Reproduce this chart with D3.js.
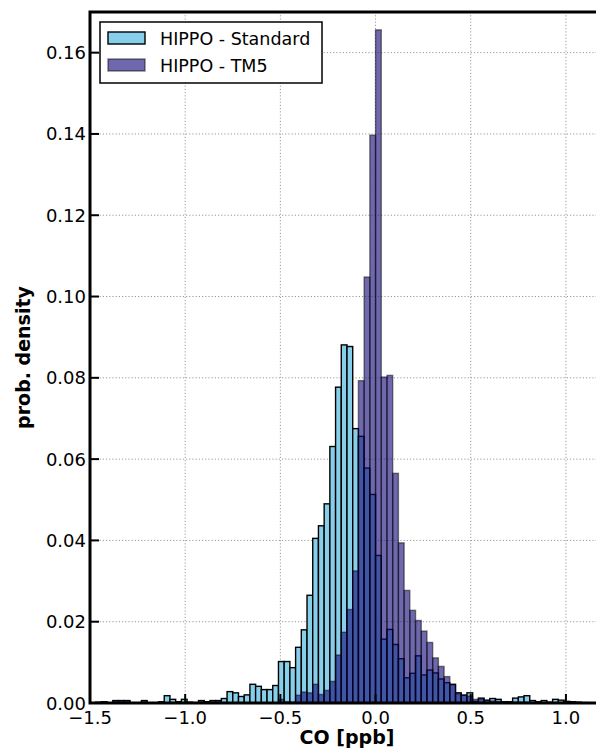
<!DOCTYPE html>
<html>
<head>
<meta charset="utf-8">
<script src="https://cdn.jsdelivr.net/npm/d3@7"></script>
<style>
  body { margin: 0; background: #fff; }
  svg { display: block; font-family: 'DejaVu Sans', sans-serif; }
</style>
</head>
<body>
<script>
// histogram bins: 0.03 wide, starting at -1.5
const binStart = -1.5;
const binWidth = 0.03;

const standard = [
  0, 0.0002, 0.0003, 0, 0.0006, 0.0006, 0.0006, 0, 0, 0.0006,
  0, 0, 0.0003, 0.0018, 0.0009, 0.0003, 0.0009, 0.0002, 0, 0.0006,
  0.0003, 0.0006, 0.0006, 0.0011, 0.0028, 0.0025, 0.0016, 0.0020, 0.0046, 0.0041,
  0.0033, 0.0033, 0.0043, 0.0102, 0.0102, 0.0087, 0.0137, 0.0180, 0.0265, 0.0405,
  0.0436, 0.0490, 0.0631, 0.0777, 0.0881, 0.0877, 0.0675, 0.0656, 0.0578, 0.0513,
  0.0363, 0.0157, 0.0181, 0.0144, 0.0109, 0.0062, 0.0073, 0.0116, 0.0069, 0.0081,
  0.0074, 0.0059, 0.0050, 0.0046, 0.0025, 0.0019, 0.0025, 0.0004, 0.0012, 0.0007,
  0.0011, 0.0009, 0.0003, 0.0003, 0.0012, 0.0015, 0.0018, 0.0006, 0.0003, 0.0006,
  0.0002, 0.0009, 0.0007, 0.0004, 0.0003, 0.0002, 0.0001
];

const tm5 = [
  0, 0, 0, 0, 0.0004, 0.0004, 0.0004, 0, 0, 0.0003,
  0, 0, 0, 0, 0, 0, 0, 0, 0, 0.0003,
  0.0003, 0.0003, 0.0003, 0, 0, 0, 0, 0, 0, 0,
  0, 0, 0, 0.0009, 0.0003, 0.0002, 0.0019, 0.0027, 0.0025, 0.0046,
  0.0021, 0.0031, 0.0053, 0.0118, 0.0174, 0.0230, 0.0325, 0.0793, 0.1048, 0.1397,
  0.1656, 0.0802, 0.0806, 0.0565, 0.0394, 0.0277, 0.0228, 0.0203, 0.0177, 0.0149,
  0.0111, 0.0090, 0.0065, 0.0045, 0.0023, 0.0020, 0.0017, 0.0009, 0.0010, 0.0006,
  0.0005, 0.0004, 0.0003, 0.0003, 0.0002, 0.0002, 0.0002, 0.0001, 0.0001, 0.0001
];

const seriesNames = ['HIPPO - Standard', 'HIPPO - TM5'];
const xTicks = [-1.5, -1.0, -0.5, 0.0, 0.5, 1.0];
const yTicks = [0, 0.02, 0.04, 0.06, 0.08, 0.10, 0.12, 0.14, 0.16];

const width = 596;
const height = 752;
const plotLeft = 90, plotTop = 12, plotBottom = 703;

const x = d3.scaleLinear().domain([-1.5, 1.2]).range([plotLeft, 604]);
const y = d3.scaleLinear().domain([0, 0.17]).range([plotBottom, plotTop]);

const tm5Color = 'rgb(22, 12, 122)';
const tm5Alpha = 0.62;
const stdColor = '#87ceeb';

function toBins(values) {
  return values.map((v, i) => ({
    x0: binStart + i * binWidth,
    x1: binStart + (i + 1) * binWidth,
    v: v
  })).filter(d => d.v > 0);
}

function main() {
  const svg = d3.select('body').append('svg')
    .attr('width', width)
    .attr('height', height);

  svg.append('rect')
    .attr('width', width)
    .attr('height', height)
    .attr('fill', '#fff');

  const minus = d => d3.format('.1f')(d).replace('-', '\u2212');

  // grid
  const grid = svg.append('g')
    .attr('stroke', '#9a9a9a')
    .attr('stroke-width', 1)
    .attr('stroke-dasharray', '1.2,2');

  grid.selectAll('line.gx')
    .data(xTicks.filter(d => d > -1.5))
    .join('line')
      .attr('class', 'gx')
      .attr('x1', d => x(d))
      .attr('x2', d => x(d))
      .attr('y1', plotTop)
      .attr('y2', plotBottom);

  grid.selectAll('line.gy')
    .data(yTicks.filter(d => d > 0))
    .join('line')
      .attr('class', 'gy')
      .attr('x1', plotLeft)
      .attr('x2', width)
      .attr('y1', d => y(d))
      .attr('y2', d => y(d));

  // bars
  svg.append('g')
    .selectAll('rect')
    .data(toBins(standard))
    .join('rect')
      .attr('x', d => x(d.x0))
      .attr('width', d => x(d.x1) - x(d.x0))
      .attr('y', d => y(d.v))
      .attr('height', d => y(0) - y(d.v))
      .attr('fill', stdColor)
      .attr('stroke', '#000')
      .attr('stroke-width', 1.4);

  svg.append('g')
    .selectAll('rect')
    .data(toBins(tm5))
    .join('rect')
      .attr('x', d => x(d.x0))
      .attr('width', d => x(d.x1) - x(d.x0))
      .attr('y', d => y(d.v))
      .attr('height', d => y(0) - y(d.v))
      .attr('fill', tm5Color)
      .attr('fill-opacity', tm5Alpha)
      .attr('stroke', '#000')
      .attr('stroke-opacity', tm5Alpha * 0.8)
      .attr('stroke-width', 1.4);

  // ticks (inward)
  svg.append('g')
    .selectAll('line')
    .data(xTicks)
    .join('line')
      .attr('x1', d => x(d))
      .attr('x2', d => x(d))
      .attr('y1', plotBottom)
      .attr('y2', plotBottom - 9)
      .attr('stroke', '#000')
      .attr('stroke-width', 2);

  svg.append('g')
    .selectAll('line')
    .data(yTicks)
    .join('line')
      .attr('x1', plotLeft)
      .attr('x2', plotLeft + 9)
      .attr('y1', d => y(d))
      .attr('y2', d => y(d))
      .attr('stroke', '#000')
      .attr('stroke-width', 2);

  // spines
  svg.append('path')
    .attr('d', `M${width + 2},${plotTop}H${plotLeft}V${plotBottom}H${width + 2}`)
    .attr('fill', 'none')
    .attr('stroke', '#000')
    .attr('stroke-width', 3);

  // tick labels
  svg.append('g')
    .selectAll('text')
    .data(xTicks)
    .join('text')
      .attr('x', d => x(d))
      .attr('y', 724)
      .attr('text-anchor', 'middle')
      .attr('font-size', 18)
      .text(minus);

  svg.append('g')
    .selectAll('text')
    .data(yTicks)
    .join('text')
      .attr('x', 86)
      .attr('y', d => y(d) + 6.5)
      .attr('text-anchor', 'end')
      .attr('font-size', 18)
      .text(d => d3.format('.2f')(d));

  // axis labels
  svg.append('text')
    .attr('x', (plotLeft + 604) / 2)
    .attr('y', 744)
    .attr('text-anchor', 'middle')
    .attr('font-size', 19)
    .attr('font-weight', 'bold')
    .text('CO [ppb]');

  svg.append('text')
    .attr('transform', `translate(30,${(plotTop + plotBottom) / 2}) rotate(-90)`)
    .attr('text-anchor', 'middle')
    .attr('font-size', 19)
    .attr('font-weight', 'bold')
    .text('prob. density');

  // legend
  const legend = svg.append('g');
  legend.append('rect')
    .attr('x', 100)
    .attr('y', 22)
    .attr('width', 222)
    .attr('height', 61)
    .attr('fill', '#fff')
    .attr('stroke', '#000')
    .attr('stroke-width', 1.5);

  const items = legend.selectAll('g.item')
    .data(seriesNames)
    .join('g')
      .attr('class', 'item')
      .attr('transform', (d, i) => `translate(0,${i * 27})`);

  items.append('rect')
    .attr('x', 108)
    .attr('y', 32)
    .attr('width', 37)
    .attr('height', 12)
    .attr('fill', (d, i) => i === 0 ? stdColor : tm5Color)
    .attr('fill-opacity', (d, i) => i === 0 ? 1 : tm5Alpha)
    .attr('stroke', '#000')
    .attr('stroke-opacity', (d, i) => i === 0 ? 1 : tm5Alpha * 0.8)
    .attr('stroke-width', 1.4);

  items.append('text')
    .attr('x', 160)
    .attr('y', 44.5)
    .attr('font-size', 17.5)
    .text(d => d);
}

main();
</script>
</body>
</html>
